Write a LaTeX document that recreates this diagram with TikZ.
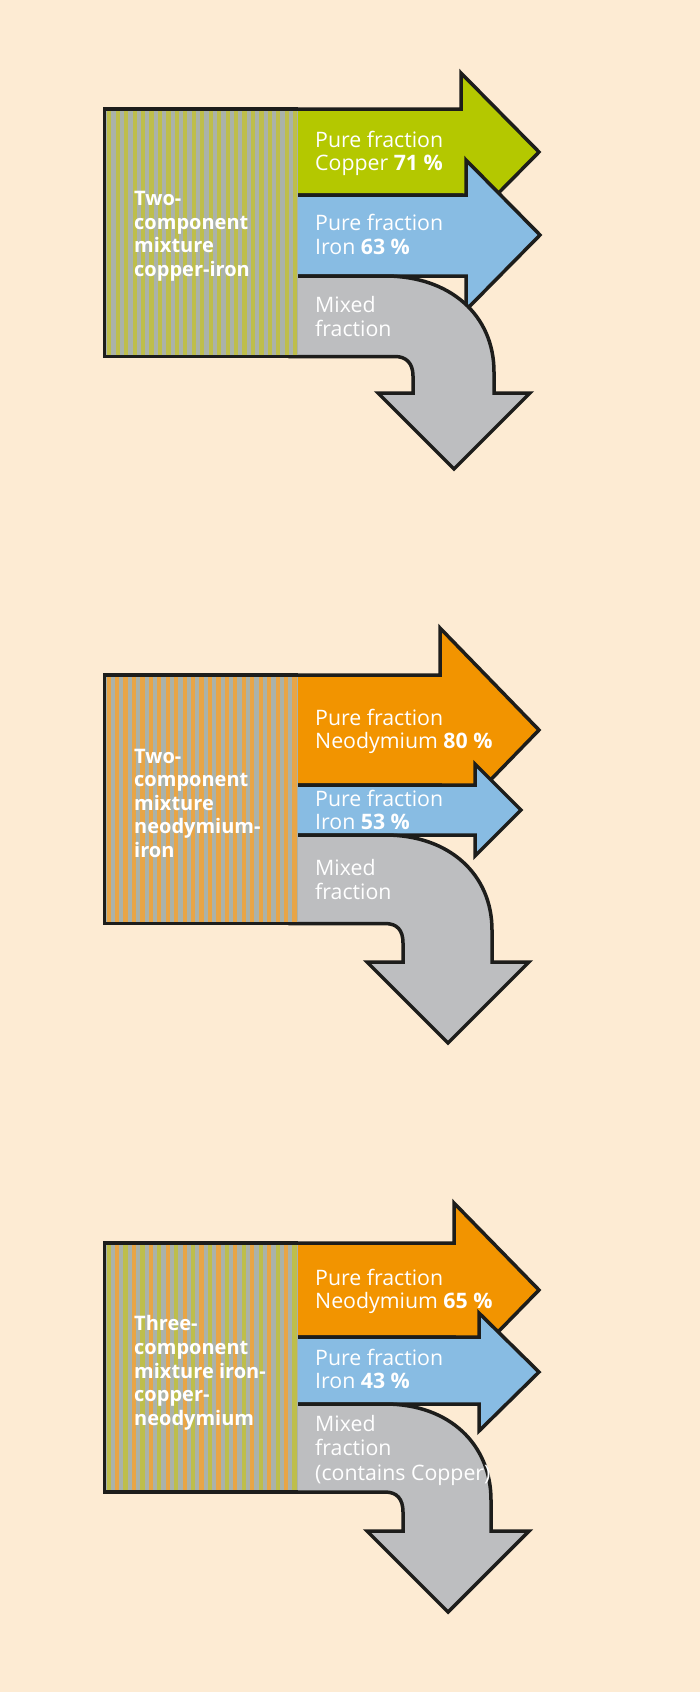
\documentclass[tikz,border=0pt]{standalone}
\usepackage{fontspec}
\setmainfont{Open Sans}
\definecolor{bg}{HTML}{FDEBD3}
\definecolor{cgreen}{HTML}{B4C800}
\definecolor{cblue}{HTML}{88BCE3}
\definecolor{corange}{HTML}{F29400}
\definecolor{cgrey}{HTML}{BDBEC0}
\definecolor{sgrey}{HTML}{AAB2AA}
\definecolor{solive}{HTML}{BEBE4B}
\definecolor{sorange}{HTML}{E8A546}
\definecolor{ink}{HTML}{1D1D1B}
\begin{document}
\begin{tikzpicture}[x=1pt,y=-1pt,
  flowshape/.style={draw=ink,line width=3.5pt,line join=miter},
  boxframe/.style={draw=ink,line width=3.5pt,line join=miter},
  lab/.style={anchor=base west,inner sep=0pt,text=white,font=\fontsize{21.3}{23}\selectfont},
  blab/.style={anchor=base west,inner sep=0pt,text=white,font=\fontsize{20}{23}\selectfont\bfseries}]
\fill[bg] (0,0) rectangle (700,1692);
\useasboundingbox (0,0) rectangle (700,1692);

% ---------------- Panel 1 ----------------
\path[flowshape,fill=cgreen] (290,109) -- (461,109) -- (461,73) -- (539,152) -- (461,231) -- (461,195) -- (290,195) -- cycle;
\path[flowshape,fill=cblue] (290,195) -- (466,195) -- (466,160) -- (540,235) -- (466,310) -- (466,276) -- (290,276) -- cycle;
\path[flowshape,fill=cgrey] (290,276) -- (385,276) .. controls (450,276) and (494,315) .. (494,372) -- (494,393) -- (530,393) -- (454,469) -- (378,393) -- (413,393) -- (413,376) .. controls (413,363) and (406,356.5) .. (395,356.5) -- (290,356.5) -- cycle;
\begin{scope}
\clip (104.5,109) rectangle (298,356.5);
\fill[sgrey] (104.5,109) rectangle (298,356.5);
\foreach \k in {0,...,23} \fill[solive] ({107.2+8.45*\k},109) rectangle ++(4.2,247.5);
\end{scope}
\draw[boxframe] (298,109) -- (104.5,109) -- (104.5,356.5) -- (298,356.5);

\node[lab] (a1) at (315,147.3) {Pure fraction};
\node[lab] (a2) at (315,170.7) {Copper \textbf{71 \%}};
\node[lab] (a3) at (315,230.7) {Pure fraction};
\node[lab] (a4) at (315,254) {Iron \textbf{63 \%}};
\node[lab] (a5) at (315,312.3) {Mixed};
\node[lab] (a6) at (315,336) {fraction};
\node[blab] (a7) at (134,205.7) {Two-};
\node[blab] (a8) at (134,229.3) {component};
\node[blab] (a9) at (134,252.7) {mixture};
\node[blab] (a10) at (134,276.7) {copper-iron};

% ---------------- Panel 2 ----------------
\path[flowshape,fill=corange] (290,675) -- (440,675) -- (440,628) -- (539,730) -- (440,832) -- (440,785) -- (290,785) -- cycle;
\path[flowshape,fill=cblue] (290,785) -- (475,785) -- (475,764) -- (521,810) -- (475,856) -- (475,835) -- (290,835) -- cycle;
\path[flowshape,fill=cgrey] (290,835) -- (385,835) .. controls (450,835) and (492,875) .. (492,930) -- (492,962) -- (529,962) -- (448,1043) -- (367,962) -- (403,962) -- (403,943) .. controls (403,930) and (397,923.5) .. (385,923.5) -- (290,923.5) -- cycle;
\begin{scope}
\clip (104.5,675) rectangle (298,923.5);
\fill[sgrey] (104.5,675) rectangle (298,923.5);
\foreach \k in {0,...,23} \fill[sorange] ({106.5+8.45*\k},675) rectangle ++(4.2,248.5);
\end{scope}
\draw[boxframe] (298,675) -- (104.5,675) -- (104.5,923.5) -- (298,923.5);

\node[lab] (b1) at (315,725) {Pure fraction};
\node[lab] (b2) at (315,748.3) {Neodymium \textbf{80 \%}};
\node[lab] (b3) at (315,806) {Pure fraction};
\node[lab] (b4) at (315,829.3) {Iron \textbf{53 \%}};
\node[lab] (b5) at (315,875.7) {Mixed};
\node[lab] (b6) at (315,899) {fraction};
\node[blab] (b7) at (134,763.3) {Two-};
\node[blab] (b8) at (134,786.7) {component};
\node[blab] (b9) at (134,810) {mixture};
\node[blab] (b10) at (134,833.3) {neodymium-};
\node[blab] (b11) at (134,857.3) {iron};

% ---------------- Panel 3 ----------------
\path[flowshape,fill=corange] (290,1243) -- (454,1243) -- (454,1203) -- (539,1290) -- (454,1377) -- (454,1337) -- (290,1337) -- cycle;
\path[flowshape,fill=cblue] (290,1337) -- (479,1337) -- (479,1313) -- (539,1372) -- (479,1431) -- (479,1404) -- (290,1404) -- cycle;
\path[flowshape,fill=cgrey] (290,1404) -- (385,1404) .. controls (450,1404) and (491,1445) .. (491,1500) -- (491,1531) -- (529,1531) -- (448,1612) -- (367,1531) -- (403,1531) -- (403,1512) .. controls (403,1499) and (397,1492) .. (385,1492) -- (290,1492) -- cycle;
\begin{scope}
\clip (104.5,1243) rectangle (298,1492);
\fill[sgrey] (104.5,1243) rectangle (298,1492);
\foreach \k in {0,...,11} {
  \fill[solive] ({106.5+16.9*\k},1243) rectangle ++(4.2,249);
  \fill[sorange] ({114.95+16.9*\k},1243) rectangle ++(4.2,249);
}
\end{scope}
\draw[boxframe] (298,1243) -- (104.5,1243) -- (104.5,1492) -- (298,1492);

\node[lab] (c1) at (315,1285) {Pure fraction};
\node[lab] (c2) at (315,1308.3) {Neodymium \textbf{65 \%}};
\node[lab] (c3) at (315,1365) {Pure fraction};
\node[lab] (c4) at (315,1388.3) {Iron \textbf{43 \%}};
\node[lab] (c5) at (315,1431.7) {Mixed};
\node[lab] (c6) at (315,1455.7) {fraction};
\node[lab] (c7) at (315,1480) {(contains Copper)};
\node[blab] (c8) at (134,1330.7) {Three-};
\node[blab] (c9) at (134,1354.3) {component};
\node[blab] (c10) at (134,1378.3) {mixture iron-};
\node[blab] (c11) at (134,1401.7) {copper-};
\node[blab] (c12) at (134,1425.7) {neodymium};
\end{tikzpicture}
\end{document}
